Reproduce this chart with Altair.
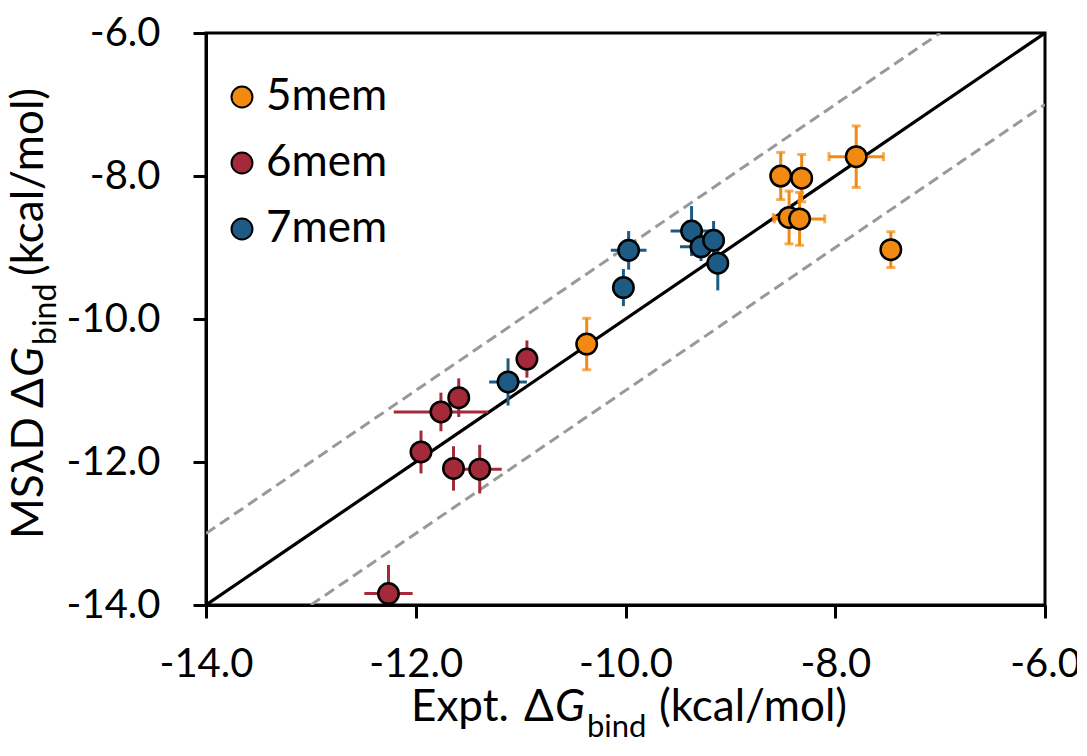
import altair as alt
import pandas as pd

# ---- data ----
groups = ["5mem", "6mem", "7mem"]
colors = ["#F28A12", "#A42A3A", "#1D5B84"]

x5 = [-10.37, -8.52, -8.32, -8.44, -8.34, -7.80, -7.47]
y5 = [-10.35, -8.00, -8.03, -8.58, -8.60, -7.73, -9.03]
xe5 = [0.0, 0.0, 0.0, 0.15, 0.24, 0.26, 0.0]
ye5 = [0.36, 0.33, 0.33, 0.37, 0.37, 0.43, 0.25]

x6 = [-10.94, -11.59, -11.76, -11.95, -11.64, -11.39, -12.26]
y6 = [-10.56, -11.10, -11.30, -11.86, -12.09, -12.10, -13.84]
xe6 = [0.05, 0.05, 0.45, 0.05, 0.05, 0.21, 0.23]
ye6 = [0.26, 0.27, 0.27, 0.30, 0.31, 0.34, 0.40]

x7 = [-11.12, -9.97, -10.02, -9.37, -9.28, -9.16, -9.12]
y7 = [-10.88, -9.04, -9.56, -8.77, -8.99, -8.90, -9.22]
xe7 = [0.18, 0.17, 0.05, 0.20, 0.20, 0.10, 0.05]
ye7 = [0.33, 0.27, 0.26, 0.35, 0.20, 0.27, 0.38]

diag_x = [-14, -6]
diag_y = [-14, -6]
upper_x = [-14, -7]
upper_y = [-13, -6]
lower_x = [-13, -6]
lower_y = [-14, -7]

ticks = [-14, -12, -10, -8, -6]

rows = []
for g, xs, ys, xes, yes in [("5mem", x5, y5, xe5, ye5), ("6mem", x6, y6, xe6, ye6), ("7mem", x7, y7, xe7, ye7)]:
    for xv, yv, xe, ye in zip(xs, ys, xes, yes):
        rows.append(dict(group=g, x=xv, y=yv, xerr=xe, yerr=ye,
                         xlo=xv - xe, xhi=xv + xe, ylo=yv - ye, yhi=yv + ye))
df = pd.DataFrame(rows)

ref = pd.DataFrame([dict(line="diag", x=a, y=b) for a, b in zip(diag_x, diag_y)])
dash = pd.DataFrame(
    [dict(line="upper", x=a, y=b) for a, b in zip(upper_x, upper_y)]
    + [dict(line="lower", x=a, y=b) for a, b in zip(lower_x, lower_y)]
)

FONT = "Lato"
label_expr = "(datum.value < 0 ? '-' : '') + format(abs(datum.value), '.1f')"
xscale = alt.Scale(domain=[-14, -6], nice=False, zero=False)
yscale = alt.Scale(domain=[-14, -6], nice=False, zero=False)
xaxis = alt.Axis(title=None, values=ticks, labelExpr=label_expr, labelPadding=26, labelFlush=False)
yaxis = alt.Axis(title=None, values=ticks, labelExpr=label_expr, labelPadding=33)
cscale = alt.Scale(domain=groups, range=colors)

X = alt.X("x:Q", scale=xscale, axis=xaxis)
Y = alt.Y("y:Q", scale=yscale, axis=yaxis)

dashed = alt.Chart(dash).mark_line(color="#999999", strokeWidth=3, strokeDash=[11, 6], clip=True).encode(
    x=X, y=Y, detail="line:N")
solid = alt.Chart(ref).mark_line(color="black", strokeWidth=3.2, clip=True).encode(x=X, y=Y)

vbars = alt.Chart(df).mark_rule(strokeWidth=3, clip=True).encode(
    x=X, y=alt.Y("ylo:Q", scale=yscale, axis=yaxis), y2="yhi:Q",
    color=alt.Color("group:N", scale=cscale, legend=None))
hbars = alt.Chart(df).transform_filter("datum.xerr > 0").mark_rule(strokeWidth=3, clip=True).encode(
    x=alt.X("xlo:Q", scale=xscale, axis=xaxis), x2="xhi:Q", y=Y,
    color=alt.Color("group:N", scale=cscale, legend=None))

orange = df[df.group == "5mem"]
vcaps = alt.Chart(orange).transform_fold(["ylo", "yhi"], as_=["k", "yc"]).mark_tick(
    orient="horizontal", size=9, thickness=3, color=colors[0], clip=True).encode(
    x=X, y=alt.Y("yc:Q", scale=yscale, axis=yaxis))
hcaps = alt.Chart(orange).transform_filter("datum.xerr > 0").transform_fold(["xlo", "xhi"], as_=["k", "xc"]).mark_tick(
    orient="vertical", size=9, thickness=3, color=colors[0], clip=True).encode(
    x=alt.X("xc:Q", scale=xscale, axis=xaxis), y=Y)

points = alt.Chart(df).mark_circle(size=420, stroke="black", strokeWidth=2.5, opacity=1).encode(
    x=X, y=Y,
    color=alt.Color("group:N", scale=cscale, legend=alt.Legend(
        title=None, orient="none", legendX=14, legendY=42,
        symbolType="circle", symbolSize=440, symbolStrokeColor="black", symbolStrokeWidth=2,
        symbolOpacity=1, labelFontSize=44, labelFont=FONT, labelColor="black",
        labelOffset=2, rowPadding=22, padding=0)))

one = alt.Data(values=[{}])

def txt(s, xv, yv, size=44, style="normal", angle=0):
    kw = dict(align="left", baseline="alphabetic", fontSize=size, font=FONT, color="black",
              fontStyle=style)
    if angle:
        kw["angle"] = angle
    return alt.Chart(one).mark_text(**kw).encode(
        x=alt.value(xv), y=alt.value(yv), text=alt.value(s))

titles = [
    txt("Expt.", 205, 688),
    txt("Δ", 318, 688),
    txt("G", 349, 688, style="italic"),
    txt("bind", 381, 704, size=31),
    txt("(kcal/mol)", 453, 688),
    txt("MSλD", -163, 506, angle=270),
    txt("Δ", -163, 375, angle=270),
    txt("G", -163, 344, style="italic", angle=270),
    txt("bind", -150, 312, size=32, angle=270),
    txt("(kcal/mol)", -163, 243, angle=270),
]

chart = alt.layer(dashed, solid, vbars, hbars, vcaps, hcaps, points, *titles).resolve_legend(
    color="independent"
).properties(
    width=839, height=572,
    autosize=alt.AutoSizeParams(type="none"),
    padding={"left": 198, "top": 25, "right": 32, "bottom": 136},
).configure_view(stroke="black", strokeWidth=3).configure_axis(
    grid=False, domainColor="black", domainWidth=3, tickColor="black", tickWidth=3, tickSize=13,
    labelFont=FONT, labelFontSize=40, labelColor="black",
).configure_axisX(labelBaseline="top")

chart.save("out.html", embed_options={"renderer": "svg", "actions": False})
